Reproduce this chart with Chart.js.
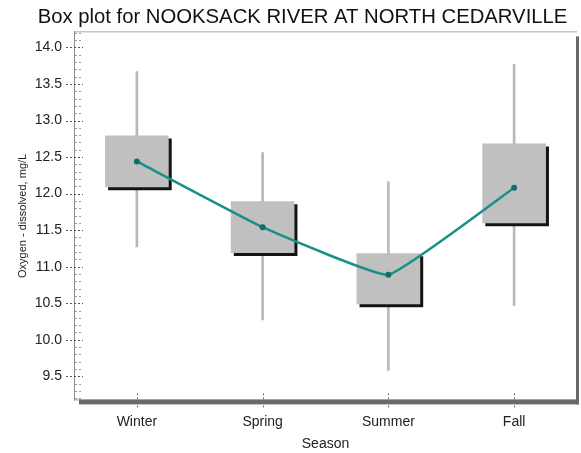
<!DOCTYPE html>
<html>
<head>
<meta charset="utf-8">
<script src="https://cdn.jsdelivr.net/npm/chart.js@4/dist/chart.umd.min.js"></script>
<style>
  html, body { margin: 0; padding: 0; background: #ffffff; }
  #wrap { width: 581px; height: 453px; }
</style>
</head>
<body>
<div id="wrap"><canvas id="chart" width="581" height="453"></canvas></div>
<script>
// Dissolved oxygen (mg/L) by season
const seasons = ['Winter', 'Spring', 'Summer', 'Fall'];
const whiskerLow  = [11.27, 10.27, 9.58, 10.47];
const quartile1   = [12.09, 11.19, 10.49, 11.60];
const centerValue = [12.44, 11.54, 10.89, 12.08];
const quartile3   = [12.79, 11.89, 11.18, 12.68];
const whiskerHigh = [13.67, 12.56, 12.16, 13.77];

const yMin = 9.17;
const yMax = 14.22;
const majorStep = 0.5;
const minorStep = 0.1;

const FONT = '"Liberation Sans", Arial, Helvetica, sans-serif';

// drop shadow under the boxes
const boxShadow = {
  id: 'boxShadow',
  beforeDatasetDraw(chart, args) {
    if (chart.data.datasets[args.index].label !== 'Box') return;
    const ctx = chart.ctx;
    ctx.save();
    ctx.shadowColor = 'rgba(20,20,20,1)';
    ctx.shadowOffsetX = 3;
    ctx.shadowOffsetY = 3;
    ctx.shadowBlur = 0;
  },
  afterDatasetDraw(chart, args) {
    if (chart.data.datasets[args.index].label !== 'Box') return;
    chart.ctx.restore();
  }
};

// plot frame with shaded right/bottom edge, and dotted tick marks
const frameAndTicks = {
  id: 'frameAndTicks',
  beforeDatasetsDraw(chart) {
    const ctx = chart.ctx;
    const a = chart.chartArea;
    const ys = chart.scales.y;
    const xs = chart.scales.x;
    ctx.save();

    // top and left edges
    ctx.lineWidth = 1;
    ctx.strokeStyle = '#a8a8a8';
    ctx.beginPath();
    ctx.moveTo(a.left, a.top + 0.5);
    ctx.lineTo(a.right, a.top + 0.5);
    ctx.stroke();
    ctx.strokeStyle = '#8c8c8c';
    ctx.beginPath();
    ctx.moveTo(a.left + 0.5, a.top);
    ctx.lineTo(a.left + 0.5, a.bottom);
    ctx.stroke();

    // shaded right and bottom edges
    ctx.fillStyle = '#6a6a6a';
    ctx.fillRect(a.right - 1, a.top + 5, 3, a.bottom - a.top - 1);
    ctx.fillRect(a.left + 5, a.bottom - 1, a.right - a.left - 3, 5);
    ctx.fillStyle = '#9a9a9a';
    ctx.fillRect(a.left, a.bottom - 1, 6, 1);

    // y minor ticks
    ctx.setLineDash([2, 2]);
    ctx.strokeStyle = '#9a9a9a';
    const nMinor = Math.round((yMax - yMin) / minorStep) + 2;
    const first = Math.ceil(yMin / minorStep);
    for (let k = 0; k < nMinor; k++) {
      const v = (first + k) * minorStep;
      if (v > yMax) break;
      if (Math.abs(v / majorStep - Math.round(v / majorStep)) < 1e-6) continue;
      const py = Math.round(ys.getPixelForValue(v)) + 0.5;
      ctx.beginPath();
      ctx.moveTo(a.left + 1, py);
      ctx.lineTo(a.left + 9, py);
      ctx.stroke();
    }
    // y major ticks
    ctx.strokeStyle = '#555555';
    ys.ticks.forEach(t => {
      const py = Math.round(ys.getPixelForValue(t.value)) + 0.5;
      ctx.beginPath();
      ctx.moveTo(a.left - 8, py);
      ctx.lineTo(a.left + 9, py);
      ctx.stroke();
    });
    // x ticks
    ctx.strokeStyle = '#6a6a6a';
    seasons.forEach((s, i) => {
      const px = Math.round(xs.getPixelForValue(i)) + 0.5;
      ctx.beginPath();
      ctx.moveTo(px, a.bottom - 7);
      ctx.lineTo(px, a.bottom + 9);
      ctx.stroke();
    });
    ctx.restore();
  }
};

new Chart(document.getElementById('chart'), {
  data: {
    labels: seasons,
    datasets: [
      {
        type: 'line',
        label: 'Center',
        data: centerValue,
        borderColor: '#1a8f8a',
        borderWidth: 2.5,
        tension: 0.1,
        pointRadius: 3,
        pointBackgroundColor: '#0e6e69',
        pointBorderColor: '#0e6e69',
        pointBorderWidth: 0,
        order: 0
      },
      {
        type: 'bar',
        label: 'Box',
        data: seasons.map((_, i) => [quartile1[i], quartile3[i]]),
        backgroundColor: '#c0c0c0',
        borderWidth: 0,
        barThickness: 63,
        grouped: false,
        order: 1
      },
      {
        type: 'bar',
        label: 'Whisker',
        data: seasons.map((_, i) => [whiskerLow[i], whiskerHigh[i]]),
        backgroundColor: '#b8b8b8',
        borderWidth: 0,
        barThickness: 2,
        grouped: false,
        order: 2
      }
    ]
  },
  options: {
    responsive: false,
    animation: false,
    events: [],
    layout: { padding: { left: 27, right: 3, top: 0, bottom: 0 } },
    plugins: {
      legend: { display: false },
      tooltip: { enabled: false },
      title: {
        display: true,
        text: 'Box plot for NOOKSACK RIVER AT NORTH CEDARVILLE',
        color: '#111111',
        font: { family: FONT, size: 20.3, weight: 'normal' },
        padding: { top: 5, bottom: 2 }
      }
    },
    scales: {
      x: {
        type: 'category',
        offset: true,
        grid: { display: false, drawTicks: false },
        border: { display: false },
        ticks: {
          color: '#222222',
          font: { family: FONT, size: 14 },
          padding: 13,
          maxRotation: 0
        },
        title: {
          display: true,
          text: 'Season',
          color: '#222222',
          font: { family: FONT, size: 14 },
          padding: { top: -7, bottom: 0 }
        }
      },
      y: {
        type: 'linear',
        min: yMin,
        max: yMax,
        grid: { display: false, drawTicks: false },
        border: { display: false },
        ticks: {
          stepSize: majorStep,
          includeBounds: false,
          maxTicksLimit: 20,
          color: '#222222',
          font: { family: FONT, size: 14 },
          padding: 12,
          callback: v => Number(v).toFixed(1)
        },
        title: {
          display: true,
          text: 'Oxygen - dissolved, mg/L',
          color: '#222222',
          font: { family: FONT, size: 11 },
          padding: { top: -11, bottom: 0 }
        },
        afterFit(scale) { scale.width = 47; }
      }
    }
  },
  plugins: [boxShadow, frameAndTicks]
});
</script>
</body>
</html>
